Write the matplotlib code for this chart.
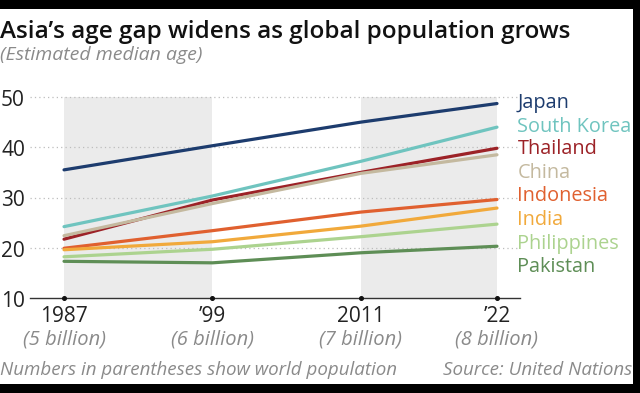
import matplotlib
matplotlib.use("Agg")
import matplotlib.pyplot as plt
import matplotlib.transforms as mtransforms
from matplotlib.patches import Rectangle

# ---------------------------------------------------------
# DATA (median age)
# ---------------------------------------------------------
years = [1987, 1999, 2011, 2022]
year_labels = ["1987", "\u201999", "2011", "\u201922"]
pop_labels = ["(5 billion)", "(6 billion)", "(7 billion)", "(8 billion)"]

countries = ["Japan", "South Korea", "Thailand", "China",
             "Indonesia", "India", "Philippines", "Pakistan"]
japan = [35.5, 40.3, 45.0, 48.7]
south_korea = [24.2, 30.3, 37.2, 44.0]
thailand = [21.7, 29.5, 35.0, 39.8]
china = [22.4, 28.8, 34.8, 38.5]
indonesia = [19.9, 23.4, 27.1, 29.6]
india = [19.6, 21.2, 24.3, 27.9]
philippines = [18.2, 19.7, 22.2, 24.7]
pakistan = [17.3, 17.0, 19.0, 20.3]
series = [japan, south_korea, thailand, china,
          indonesia, india, philippines, pakistan]

colors = ["#1d3c6e", "#6fc4bf", "#9c2227", "#c4b99f",
          "#e0602f", "#f1a93b", "#acd38f", "#5e8e56"]

plt.rcParams["font.family"] = ["Open Sans", "DejaVu Sans"]

fig = plt.figure(figsize=(6.4, 3.93), dpi=100)
fig.patch.set_facecolor("black")
fig.patches.append(Rectangle((0, 9 / 393), 633 / 640, 375 / 393,
                             transform=fig.transFigure, facecolor="white",
                             edgecolor="none", zorder=-5))

ax = fig.add_axes([30 / 640, 95 / 393, 490 / 640, 201 / 393])
ax.set_facecolor("none")
ax.set_xlim(1984.25, 2023.86)
ax.set_ylim(10, 50)

# shaded bands
ax.axvspan(years[0], years[1], color="#ebebeb", zorder=0, lw=0)
ax.axvspan(years[2], years[3], color="#ebebeb", zorder=0, lw=0)

# dotted gridlines
for v in [20, 30, 40, 50]:
    ax.plot([1984.25, 2023.6], [v, v], ls=(0, (1, 2.5)), color="#bdbdbd",
            lw=0.9, clip_on=False, zorder=1)

for vals, c in zip(series, colors):
    ax.plot(years, vals, color=c, lw=2.3, solid_capstyle="round", zorder=3)

# series labels on the right (baseline positions)
label_y = [47.85, 43.1, 38.65, 33.9, 29.3, 24.45, 19.8, 15.1]
for name, c, y in zip(countries, colors, label_y):
    ax.text(2023.65, y, name, color=c, fontsize=14.3, va="baseline",
            ha="left", clip_on=False)

# axes styling
for s in ["top", "right", "left"]:
    ax.spines[s].set_visible(False)
ax.spines["bottom"].set_color("#333333")
ax.spines["bottom"].set_linewidth(1.0)
ax.set_yticks([])
ax.set_xticks([])
ax.plot(years, [10] * 4, "o", color="#111111", ms=2.6, clip_on=False, zorder=4)

ytrans = mtransforms.offset_copy(ax.get_yaxis_transform(), fig=fig,
                                 x=0, y=-9, units="dots")
for v in [10, 20, 30, 40, 50]:
    ax.text(-29 / 490, v, str(v), transform=ytrans,
            fontsize=15, va="baseline", ha="left", color="#222222")

yr_trans = mtransforms.offset_copy(ax.transData, fig=fig, x=0, y=-24,
                                   units="dots")
pop_trans = mtransforms.offset_copy(ax.transData, fig=fig, x=0, y=-46,
                                    units="dots")
for x, yl, pl in zip(years, year_labels, pop_labels):
    ax.text(x, 10, yl, transform=yr_trans, fontsize=15, ha="center",
            va="baseline", color="#222222")
    ax.text(x, 10, pl, transform=pop_trans, fontsize=14.5, ha="center",
            va="baseline", color="#8a8a8a", style="italic")

fig.text(0.0, 1 - 38 / 393, "Asia\u2019s age gap widens as global population grows",
         fontsize=17.5, fontweight="semibold", color="#111111", va="baseline")
fig.text(0.0, 1 - 60 / 393, "(Estimated median age)", fontsize=14,
         style="italic", color="#8a8a8a", va="baseline")
fig.text(0.0, 1 - 375 / 393, "Numbers in parentheses show world population",
         fontsize=13.5, style="italic", color="#8a8a8a", va="baseline")
fig.text(632 / 640, 1 - 375 / 393, "Source: United Nations",
         fontsize=13.5, style="italic", color="#8a8a8a", va="baseline", ha="right")

fig.savefig("out.png", dpi=100, facecolor=fig.get_facecolor())
